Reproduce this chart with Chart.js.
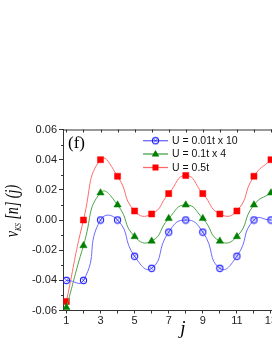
<!DOCTYPE html>
<html><head><meta charset="utf-8">
<script src="https://cdn.jsdelivr.net/npm/chart.js@4/dist/chart.umd.min.js"></script>
<style>
html,body{margin:0;padding:0;overflow:hidden;background:#fff;width:272px;height:352px;}
#wrap{position:absolute;left:0;top:0;width:290px;height:352px;}
</style></head>
<body><div id="wrap"><canvas id="c" width="290" height="352"></canvas></div>
<script>
const jValues = [1,2,3,4,5,6,7,8,9,10,11,12,13];
const seriesU001x10 = [-0.040,-0.040,0.000,0.000,-0.024,-0.032,-0.008,0.000,-0.008,-0.032,-0.024,0.000,0.000];
const seriesU01x4 = [-0.058,-0.017,0.018,0.010,-0.011,-0.014,0.001,0.010,0.001,-0.014,-0.011,0.010,0.018];
const seriesU05 = [-0.054,0.000,0.040,0.029,0.006,0.004,0.0175,0.0295,0.0175,0.004,0.006,0.029,0.040];
const seriesLabels = ['U = 0.01t x 10','U = 0.1t x 4','U = 0.5t'];
const yTickValues = [-0.06,-0.04,-0.02,0.00,0.02,0.04,0.06];
const xTickLabels = ['1','3','5','7','9','11','13'];

function circleX(){
  const c=document.createElement('canvas');c.width=9;c.height=9;
  const g=c.getContext('2d');g.strokeStyle='#1a1aff';g.lineWidth=1.1;
  g.beginPath();g.arc(4.5,4.5,3.1,0,Math.PI*2);g.stroke();
  g.lineWidth=0.8;g.beginPath();g.moveTo(3.3,3.3);g.lineTo(5.7,5.7);g.moveTo(5.7,3.3);g.lineTo(3.3,5.7);g.stroke();
  return c;
}
const blueMarker = circleX();
const pts = a => a.map((v,i)=>({x:jValues[i],y:v}));

const SERIF='"Liberation Serif","Times New Roman",serif';
const SANS='"Liberation Sans",Arial,sans-serif';

const deco = {
  id:'deco',
  afterDraw(chart){
    const ctx=chart.ctx, a=chart.chartArea, xs=chart.scales.x, ys=chart.scales.y;
    ctx.save();
    ctx.strokeStyle='#333';ctx.lineWidth=1;
    ctx.beginPath();ctx.moveTo(a.left,a.top+0.5);ctx.lineTo(a.right,a.top+0.5);ctx.stroke();
    ctx.beginPath();
    for(const j of jValues){const x=Math.round(xs.getPixelForValue(j))+0.5;ctx.moveTo(x,a.top);ctx.lineTo(x,a.top+3);}
    for(let k=-5;k<=5;k+=2){const y=Math.round(ys.getPixelForValue(k/100))+0.5;ctx.moveTo(a.left,y);ctx.lineTo(a.left-2,y);}
    ctx.stroke();
    ctx.fillStyle='#000';ctx.font='17px '+SERIF;ctx.textBaseline='middle';ctx.textAlign='left';
    ctx.fillText('(f)',68,144);
    ctx.font='italic 19px '+SERIF;ctx.textAlign='center';
    ctx.fillText('j',183,329);
    // y title
    ctx.save();ctx.translate(18,211);ctx.rotate(-Math.PI/2);ctx.scale(0.74,1);
    const big='italic 19px '+SERIF, small='italic 9px '+SERIF;
    ctx.textAlign='left';ctx.textBaseline='alphabetic';
    const parts=[['v',big,0],['KS',small,3],[' [n] (j)',big,0]];
    let w=0;for(const p of parts){ctx.font=p[1];w+=ctx.measureText(p[0]).width;}
    let x=-w/2;
    for(const p of parts){ctx.font=p[1];ctx.fillText(p[0],x,p[2]);x+=ctx.measureText(p[0]).width;}
    ctx.restore();
    // legend
    const rows=[140.7,154,167.5];
    chart.data.datasets.forEach((ds,i)=>{
      const y=rows[i];
      ctx.strokeStyle=ds.borderColor;ctx.lineWidth=1.3;
      ctx.beginPath();ctx.moveTo(143,y);ctx.lineTo(168,y);ctx.stroke();
      const cx=155.5;
      if(i===0){ctx.drawImage(blueMarker,cx-4.5,y-4.5);}
      else if(i===1){ctx.fillStyle=ds.pointBackgroundColor;ctx.beginPath();ctx.moveTo(cx,y-4);ctx.lineTo(cx+3.8,y+2.5);ctx.lineTo(cx-3.8,y+2.5);ctx.closePath();ctx.fill();}
      else {ctx.fillStyle=ds.pointBackgroundColor;ctx.fillRect(cx-3,y-3,6,6);}
      ctx.fillStyle='#111';ctx.font='10.5px '+SANS;ctx.textAlign='left';ctx.textBaseline='middle';
      ctx.fillText(ds.label,172,y+0.5);
    });
    ctx.restore();
  }
};

new Chart(document.getElementById('c'),{
  type:'line',
  data:{datasets:[
    {label:seriesLabels[0],data:pts(seriesU001x10),borderColor:'#6b6bff',borderWidth:1,tension:0.55,
     pointStyle:blueMarker,pointRadius:4,pointBackgroundColor:'#1a1aff',pointBorderColor:'#1a1aff'},
    {label:seriesLabels[1],data:pts(seriesU01x4),borderColor:'#4aa34a',borderWidth:1,tension:0.55,
     pointStyle:'triangle',pointRadius:4.2,pointBackgroundColor:'#008000',pointBorderColor:'#008000',pointBorderWidth:0.5},
    {label:seriesLabels[2],data:pts(seriesU05),borderColor:'#ff6b6b',borderWidth:1,tension:0.55,
     pointStyle:'rect',pointRadius:4.3,pointBackgroundColor:'#ff0000',pointBorderColor:'#ff0000',pointBorderWidth:0.5}
  ]},
  options:{
    responsive:false,animation:false,devicePixelRatio:1,
    layout:{padding:{top:129.5,right:15.6,left:0,bottom:0}},
    plugins:{legend:{display:false},tooltip:{enabled:false}},
    scales:{
      x:{type:'linear',min:0.8,max:13.2,
        afterBuildTicks(s){s.ticks=jValues.map(v=>({value:v}));},
        afterFit(s){s.height=352-310.5;},
        ticks:{autoSkip:false,maxRotation:0,padding:1,color:'#222',font:{family:SANS,size:11},
          callback:(v)=>{const t=String(v);return xTickLabels.includes(t)?t:'';}},
        grid:{drawOnChartArea:false,drawTicks:true,tickLength:3,color:'#333'},
        border:{color:'#333',width:1}},
      y:{min:-0.06,max:0.06,
        afterBuildTicks(s){s.ticks=yTickValues.map(v=>({value:v}));},
        afterFit(s){s.width=63;},
        ticks:{padding:2,color:'#222',font:{family:SANS,size:11},
          callback:(v)=>{const r=Math.round(v*100)/100;return (r===0?0:r).toFixed(2);}},
        grid:{drawOnChartArea:false,drawTicks:true,tickLength:4,color:'#333'},
        border:{color:'#333',width:1}}
    }
  },
  plugins:[deco]
});
</script></body></html>
